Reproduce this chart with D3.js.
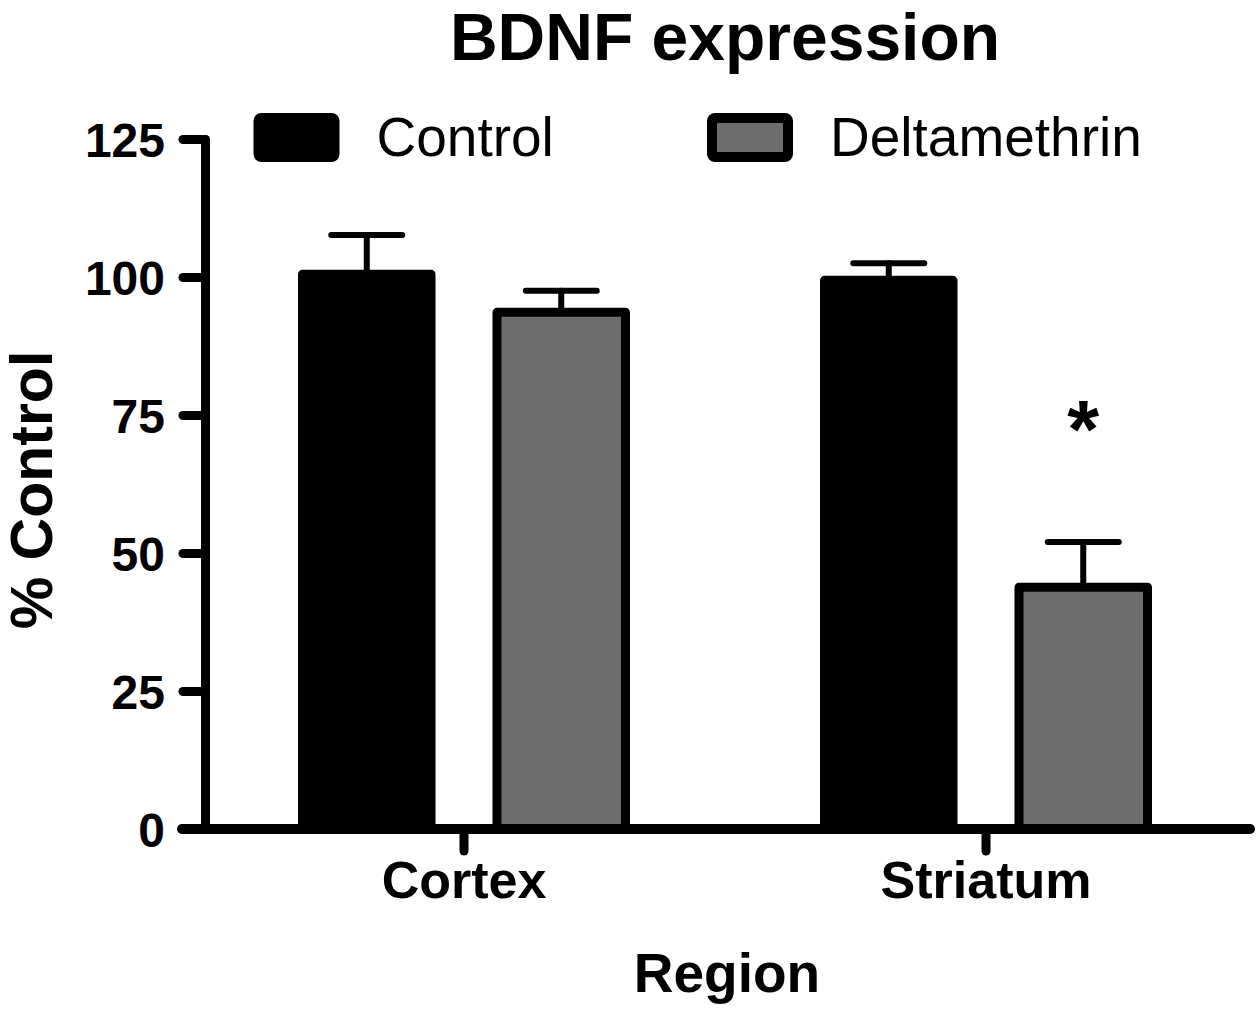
<!DOCTYPE html>
<html>
<head>
<meta charset="utf-8">
<script src="https://cdnjs.cloudflare.com/ajax/libs/d3/7.8.5/d3.min.js"></script>
<style>
  body { margin: 0; background: #fff; }
  text { font-family: "Liberation Sans", Arial, sans-serif; fill: #000; }
</style>
</head>
<body>
<svg id="chart" width="1260" height="1012"></svg>
<script>
// data
var regions = ["Cortex", "Striatum"];
var groups = ["Control", "Deltamethrin"];
var means = [[100.5, 93.6], [99.4, 43.8]];   // [region][group]
var sems  = [[7.1, 3.9], [3.1, 8.2]];
var yTicks = [0, 25, 50, 75, 100, 125];
var colors = {"Control": "#000", "Deltamethrin": "#6d6d6d"};

var svg = d3.select("#chart");

var axisLeftX = 205, axisY0 = 829, barStroke = 9;

var y = d3.scaleLinear()
    .domain([0, 125])
    .range([axisY0, 139]);

// outer edges of the bar groups
var x0 = d3.scaleBand()
    .domain(regions)
    .range([298, 1152])
    .paddingInner(0.364)
    .paddingOuter(0);

var x1 = d3.scaleBand()
    .domain(groups)
    .range([0, x0.bandwidth()])
    .paddingInner(0.293)
    .paddingOuter(0);

// bars
var rows = [];
regions.forEach(function(r, i) {
  groups.forEach(function(g, j) {
    rows.push({region: r, group: g, mean: means[i][j], sem: sems[i][j]});
  });
});

var bars = svg.append("g").attr("class", "bars");

bars.selectAll("rect")
    .data(rows)
    .enter().append("rect")
    .attr("x", function(d) { return x0(d.region) + x1(d.group) + barStroke/2; })
    .attr("width", x1.bandwidth() - barStroke)
    .attr("y", function(d) { return y(d.mean); })
    .attr("height", function(d) { return y(0) - y(d.mean); })
    .attr("fill", function(d) { return colors[d.group]; })
    .attr("stroke", "#000")
    .attr("stroke-width", barStroke)
    .attr("stroke-linejoin", "round");

// error bars (upper only)
var capHalf = 35.5;
var err = svg.append("g").attr("class", "errors")
    .attr("stroke", "#000")
    .attr("stroke-width", 6)
    .attr("stroke-linecap", "round");

function cx(d) { return x0(d.region) + x1(d.group) + x1.bandwidth()/2; }

err.selectAll("line.stem")
    .data(rows)
    .enter().append("line")
    .attr("class", "stem")
    .attr("x1", cx).attr("x2", cx)
    .attr("y1", function(d) { return y(d.mean); })
    .attr("y2", function(d) { return y(d.mean + d.sem); });

err.selectAll("line.cap")
    .data(rows)
    .enter().append("line")
    .attr("class", "cap")
    .attr("x1", function(d) { return cx(d) - capHalf; })
    .attr("x2", function(d) { return cx(d) + capHalf; })
    .attr("y1", function(d) { return y(d.mean + d.sem); })
    .attr("y2", function(d) { return y(d.mean + d.sem); });

// significance marker
var sig = rows[3];
svg.append("text")
    .attr("x", cx(sig))
    .attr("y", y(sig.mean + sig.sem) - 85)
    .attr("text-anchor", "middle")
    .style("font-size", "82px")
    .style("font-weight", "bold")
    .text("*");

// y axis
var yAxis = svg.append("g")
    .attr("transform", "translate(" + axisLeftX + ",0)")
    .call(d3.axisLeft(y).tickValues(yTicks).tickSize(22).tickSizeOuter(0).tickPadding(18));

yAxis.select(".domain")
    .attr("stroke", "#000")
    .attr("stroke-width", barStroke)
    .attr("stroke-linecap", "round");
yAxis.selectAll(".tick line")
    .attr("stroke", "#000")
    .attr("stroke-width", barStroke)
    .attr("stroke-linecap", "round");
yAxis.selectAll(".tick text")
    .attr("dy", "0.36em")
    .style("font-family", "'Liberation Sans', Arial, sans-serif")
    .style("font-size", "48px")
    .style("font-weight", "bold");

// x axis
svg.append("line")
    .attr("x1", 182).attr("x2", 1250)
    .attr("y1", axisY0).attr("y2", axisY0)
    .attr("stroke", "#000")
    .attr("stroke-width", 10)
    .attr("stroke-linecap", "round");

var xAxis = svg.append("g")
    .attr("transform", "translate(0," + axisY0 + ")")
    .call(d3.axisBottom(x0).tickSize(22).tickSizeOuter(0).tickPadding(10));

xAxis.select(".domain").remove();
xAxis.selectAll(".tick line")
    .attr("stroke", "#000")
    .attr("stroke-width", barStroke)
    .attr("stroke-linecap", "round");
xAxis.selectAll(".tick text")
    .attr("dy", "0.71em")
    .style("font-family", "'Liberation Sans', Arial, sans-serif")
    .style("font-size", "52px")
    .style("font-weight", "bold");

// titles
svg.append("text")
    .attr("x", 725).attr("y", 60)
    .attr("text-anchor", "middle")
    .style("font-size", "66px")
    .style("font-weight", "bold")
    .text("BDNF expression");

svg.append("text")
    .attr("x", 727).attr("y", 992)
    .attr("text-anchor", "middle")
    .style("font-size", "55px")
    .style("font-weight", "bold")
    .text("Region");

svg.append("text")
    .attr("transform", "translate(52,490) rotate(-90)")
    .attr("text-anchor", "middle")
    .style("font-size", "59px")
    .style("font-weight", "bold")
    .text("% Control");

// legend
var legendX = [258.5, 712];
var legend = svg.append("g").attr("class", "legend");

var items = legend.selectAll("g")
    .data(groups)
    .enter().append("g")
    .attr("transform", function(d, i) { return "translate(" + legendX[i] + ",118)"; });

items.append("rect")
    .attr("width", 76)
    .attr("height", 39)
    .attr("rx", 3)
    .attr("fill", function(d) { return colors[d]; })
    .attr("stroke", "#000")
    .attr("stroke-width", 10);

items.append("text")
    .attr("x", 118)
    .attr("y", 38)
    .style("font-size", "55px")
    .text(function(d) { return d; });
</script>
</body>
</html>
